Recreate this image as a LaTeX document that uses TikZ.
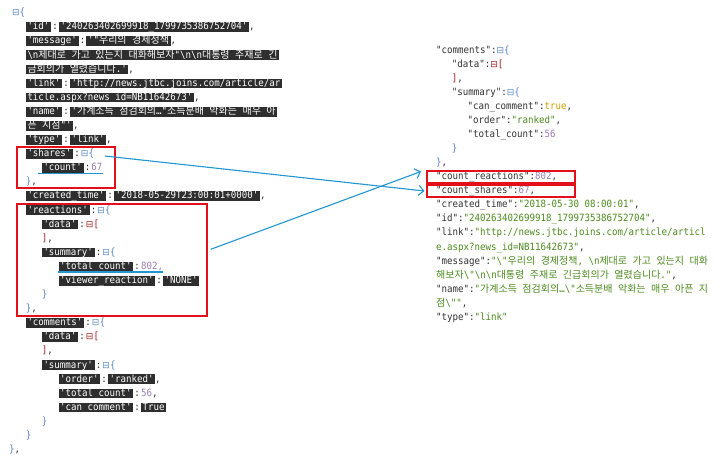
\documentclass[tikz,border=0pt]{standalone}
\usepackage{fontspec}
\setmonofont{DejaVu Sans Mono}[FakeStretch=0.913]
\newfontfamily\krfont{Noto Sans CJK KR}
\newfontfamily\symfont{DejaVu Sans}[Scale=0.9]
\usetikzlibrary{arrows.meta}
\definecolor{hlbg}{HTML}{2E2E2E}
\definecolor{icon}{HTML}{5B86C0}
\definecolor{arrc}{HTML}{A01C1C}
\definecolor{numc}{HTML}{9A7DB5}
\definecolor{strc}{HTML}{4C8A1E}
\definecolor{kwc}{HTML}{C9A100}
\definecolor{keyc}{HTML}{333333}
\definecolor{redb}{HTML}{E3101C}
\definecolor{blu}{HTML}{2196D3}
\newcommand\KR[1]{{\krfont #1}}
\newcommand\HL[1]{{\setlength\fboxsep{0pt}\colorbox{hlbg}{\rule[-2.2pt]{0pt}{9.8pt}\kern1.6pt\smash{\textcolor{white}{#1}}\kern1.6pt}}}
\newcommand\ICB{\textcolor{icon}{{\symfont ⊟}\{}}
\newcommand\ICA{\textcolor{arrc}{{\symfont ⊟}[}}
\newcommand\CLN{\kern1.2pt:\kern1.2pt}
\newcommand\BSL{\textbackslash}
\tikzset{
  txt/.style={anchor=base west, inner sep=0pt, font=\ttfamily\fontsize{10}{12}\selectfont, text=keyc},
  redbox/.style={draw=redb, line width=2.2pt, inner sep=0pt},
  conn/.style={draw=blu, line width=1.1pt, -{Straight Barb[length=5pt,width=10pt]}},
  uline/.style={draw=blu, line width=1.6pt},
}
\begin{document}
\begin{tikzpicture}[x=1pt,y=-1pt]
\fill[white] (0,0) rectangle (720,459);
\useasboundingbox (0,0) rectangle (720,459);
% ---------- left panel ----------
\node[txt] (L0) at (12,15.7) {\ICB};
\node[txt] (L1) at (25.7,29.8) {\HL{'id'}\CLN\HL{'240263402699918\_1799735386752704'},};
\node[txt] (L2) at (25.7,43.9) {\HL{'message'}\CLN\HL{'"\KR{우리의} \KR{경제정책}},};
\node[txt] (L3) at (25.7,58.0) {\HL{\BSL n\KR{제대로} \KR{가고} \KR{있는지} \KR{대화해보자}"\BSL n\BSL n\KR{대통령} \KR{주재로} \KR{긴}}};
\node[txt] (L4) at (25.7,72.1) {\HL{\KR{금회의가} \KR{열렸습니다}.'},};
\node[txt] (L5) at (25.7,86.2) {\HL{'link'}\CLN\HL{'http://news.jtbc.joins.com/article/ar}};
\node[txt] (L6) at (25.7,100.2) {\HL{ticle.aspx?news\_id=NB11642673'},};
\node[txt] (L7) at (25.7,114.3) {\HL{'name'}\CLN\HL{'\KR{가계소득} \KR{점검회의}…"\KR{소득분배} \KR{악화는} \KR{매우} \KR{아}}};
\node[txt] (L8) at (25.7,128.4) {\HL{\KR{픈} \KR{지점}"'},};
\node[txt] (L9) at (25.7,142.5) {\HL{'type'}\CLN\HL{'link'},};
\node[txt] (L10) at (25.7,156.6) {\HL{'shares'}\CLN\ICB};
\node[txt] (L11) at (41.7,170.7) {\HL{'count'}\CLN\textcolor{numc}{67}};
\node[txt] (L12) at (25.7,184.8) {\textcolor{icon}{\}},};
\node[txt] (L13) at (25.7,198.9) {\HL{'created\_time'}\CLN\HL{'2018-05-29T23:00:01+0000'},};
\node[txt] (L14) at (25.7,213.0) {\HL{'reactions'}\CLN\ICB};
\node[txt] (L15) at (41.7,227.1) {\HL{'data'}\CLN\ICA};
\node[txt] (L16) at (41.7,241.1) {\textcolor{arrc}{]},};
\node[txt] (L17) at (41.7,255.2) {\HL{'summary'}\CLN\ICB};
\node[txt] (L18) at (58.3,269.3) {\HL{'total\_count'}\CLN\textcolor{numc}{802,}};
\node[txt] (L19) at (58.3,283.4) {\HL{'viewer\_reaction'}\CLN\HL{'NONE'}};
\node[txt] (L20) at (41.7,297.5) {\textcolor{icon}{\}}};
\node[txt] (L21) at (25.7,311.6) {\textcolor{icon}{\}},};
\node[txt] (L22) at (25.7,325.7) {\HL{'comments'}\CLN\ICB};
\node[txt] (L23) at (41.7,339.8) {\HL{'data'}\CLN\ICA};
\node[txt] (L24) at (41.7,353.9) {\textcolor{arrc}{]},};
\node[txt] (L25) at (41.7,368.0) {\HL{'summary'}\CLN\ICB};
\node[txt] (L26) at (58.3,382.0) {\HL{'order'}\CLN\HL{'ranked'},};
\node[txt] (L27) at (58.3,396.1) {\HL{'total\_count'}\CLN\textcolor{numc}{56},};
\node[txt] (L28) at (58.3,410.2) {\HL{'can\_comment'}\CLN\HL{True}};
\node[txt] (L29) at (41.7,424.3) {\textcolor{icon}{\}}};
\node[txt] (L30) at (25.7,438.4) {\textcolor{icon}{\}}};
\node[txt] (L31) at (9,452.5) {\textcolor{icon}{\}},};
% ---------- right panel ----------
\node[txt] (R0) at (436,53) {"comments":\ICB};
\node[txt] (R1) at (451.7,67.1) {"data":\ICA};
\node[txt] (R2) at (451.7,81.1) {\textcolor{arrc}{]},};
\node[txt] (R3) at (451.7,95.2) {"summary":\ICB};
\node[txt] (R4) at (467.4,109.3) {"can\_comment":\textcolor{kwc}{true},};
\node[txt] (R5) at (467.4,123.4) {"order":\textcolor{strc}{"ranked"},};
\node[txt] (R6) at (467.4,137.4) {"total\_count":\textcolor{numc}{56}};
\node[txt] (R7) at (451.7,151.5) {\textcolor{icon}{\}}};
\node[txt] (R8) at (436,165.6) {\textcolor{icon}{\}},};
\node[txt] (R9) at (436,179.6) {"count\_reactions":\textcolor{numc}{802},};
\node[txt] (R10) at (436,193.7) {"count\_shares":\textcolor{numc}{67},};
\node[txt] (R11) at (436,207.8) {"created\_time":\textcolor{strc}{"2018-05-30 08:00:01"},};
\node[txt] (R12) at (436,221.8) {"id":\textcolor{strc}{"240263402699918\_1799735386752704"},};
\node[txt] (R13) at (436,235.9) {"link":\textcolor{strc}{"http://news.jtbc.joins.com/article/articl}};
\node[txt] (R14) at (436,250.0) {\textcolor{strc}{e.aspx?news\_id=NB11642673"},};
\node[txt] (R15) at (436,264.1) {"message":\textcolor{strc}{"\BSL"\KR{우리의} \KR{경제정책}, \BSL n\KR{제대로} \KR{가고} \KR{있는지} \KR{대화}}};
\node[txt] (R16) at (436,278.1) {\textcolor{strc}{\KR{해보자}\BSL"\BSL n\BSL n\KR{대통령} \KR{주재로} \KR{긴급회의가} \KR{열렸습니다}."},};
\node[txt] (R17) at (436,292.2) {"name":\textcolor{strc}{"\KR{가계소득} \KR{점검회의}…\BSL"\KR{소득분배} \KR{악화는} \KR{매우} \KR{아픈} \KR{지}}};
\node[txt] (R18) at (436,306.3) {\textcolor{strc}{\KR{점}\BSL""},};
\node[txt] (R19) at (436,320.3) {"type":\textcolor{strc}{"link"}};
% ---------- red boxes ----------
\node[redbox, minimum width=98pt, minimum height=41.6pt] (bShares) at (66,167.5) {};
\node[redbox, minimum width=189.7pt, minimum height=111.7pt] (bReact) at (111.85,259.85) {};
\node[redbox, line width=2pt, minimum width=148pt, minimum height=12pt] (rReact) at (501,177) {};
\node[redbox, line width=2pt, minimum width=148pt, minimum height=12pt] (rShares) at (501,191) {};
% ---------- underlines ----------
\draw[uline] ([xshift=-3.7pt,yshift=-2.6pt]L11.base west) -- ([yshift=-2.6pt]L11.base east);
\draw[uline] ([xshift=-0.3pt,yshift=-2.6pt]L18.base west) -- ([yshift=-2.6pt]L18.base east);
% ---------- connectors ----------
\coordinate (a1s) at (105,156);
\coordinate (a2s) at (210.7,249.3);
\draw[conn] (a1s) -- ([xshift=-1.5pt]rShares.west);
\draw[conn] (a2s) -- ([xshift=-5pt,yshift=5.5pt]rReact.west);
\end{tikzpicture}
\end{document}
